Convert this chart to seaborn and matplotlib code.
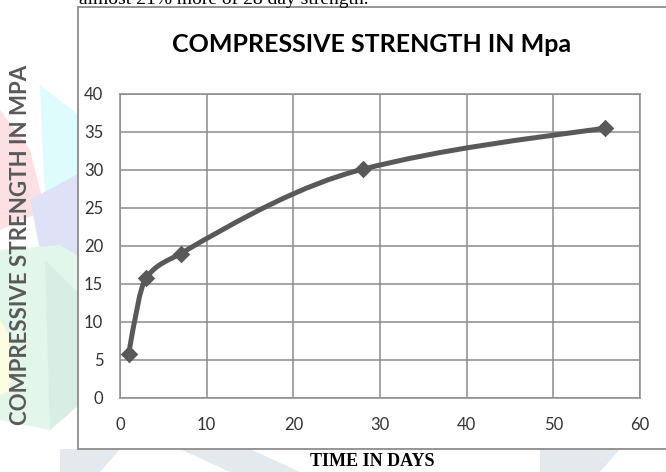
import numpy as np
import pandas as pd
import matplotlib
matplotlib.use("Agg")
import matplotlib.pyplot as plt
import seaborn as sns
from matplotlib.path import Path
from matplotlib.patches import PathPatch, Rectangle, Polygon, Wedge

# ---- data ----
days = [1, 3, 7, 28, 56]
strength = [5.8, 15.8, 19.0, 30.1, 35.5]
x_ticks = [0, 10, 20, 30, 40, 50, 60]
y_ticks = [0, 5, 10, 15, 20, 25, 30, 35, 40]
title = "COMPRESSIVE STRENGTH IN Mpa"
x_label = "TIME IN DAYS"
y_label = "COMPRESSIVE STRENGTH IN MPA"
page_text = "almost 21% more of 28 day strength."

sns.set_theme(style="white")
plt.rcParams['font.family'] = ['Lato', 'DejaVu Sans']

W, H = 666, 472
fig = plt.figure(figsize=(W / 100, H / 100), dpi=100)
fig.patch.set_facecolor("white")

def fx(px):
    return px / W

def fy(py):
    return 1 - py / H

# ---- faint watermark outside the chart frame ----
wm = [
    ([(0, 110), (30, 150), (45, 210), (0, 230)], "#fde0e3"),
    ([(40, 85), (85, 120), (85, 245), (45, 200)], "#dffcfc"),
    ([(30, 200), (85, 170), (85, 265), (40, 250)], "#dfe2f6"),
    ([(0, 250), (60, 245), (85, 260), (85, 370), (50, 430), (0, 420)], "#e2f6ec"),
    ([(45, 260), (85, 300), (85, 400), (50, 430)], "#d8eee5"),
    ([(0, 320), (12, 340), (10, 390), (0, 395)], "#fdfde2"),
    ([(60, 449), (120, 449), (100, 472), (60, 472)], "#e4e9ed"),
    ([(180, 449), (250, 449), (300, 472), (230, 472)], "#e4e9ed"),
    ([(540, 449), (620, 449), (600, 472), (540, 472)], "#e4e9ed"),
]
for pts, col in wm:
    fig.patches.append(Polygon([(fx(a), fy(b)) for a, b in pts], closed=True,
                               transform=fig.transFigure, facecolor=col,
                               edgecolor="none", zorder=0))

# ---- chart frame ----
fig.patches.append(Rectangle((fx(78), fy(449)), fx(700) - fx(78), fy(7) - fy(449),
                             transform=fig.transFigure, facecolor="white",
                             edgecolor="#8c8c8c", linewidth=1.3, zorder=1))

# page text cut off at the top
fig.text(fx(79), fy(4), page_text, family=["Liberation Serif"], fontsize=14,
         color="black", ha="left", va="baseline")

# ---- axes ----
ax = fig.add_axes([fx(120), fy(398), fx(640) - fx(120), fy(94) - fy(398)])
ax.set_facecolor("white")
ax.set_zorder(2)

# smooth line (Excel-like) drawn as bezier through data
x = np.array(days, float)
y = np.array(strength, float)
h = np.diff(x)
d = np.diff(y) / h
m = np.zeros_like(x)
for i in range(1, len(x) - 1):
    w1 = 2 * h[i] + h[i - 1]
    w2 = h[i] + 2 * h[i - 1]
    m[i] = (w1 + w2) / (w1 / d[i - 1] + w2 / d[i])
m[0] = ((2 * h[0] + h[1]) * d[0] - h[0] * d[1]) / (h[0] + h[1])
m[-1] = d[-1] * 0.8
verts = [(x[0], y[0])]
codes = [Path.MOVETO]
for i in range(len(x) - 1):
    verts += [(x[i] + h[i] / 3, y[i] + m[i] * h[i] / 3),
              (x[i + 1] - h[i] / 3, y[i + 1] - m[i + 1] * h[i] / 3),
              (x[i + 1], y[i + 1])]
    codes += [Path.CURVE4] * 3
ax.add_patch(PathPatch(Path(verts, codes), facecolor="none", edgecolor="#595959",
                       linewidth=3.6, capstyle="round", joinstyle="round", zorder=3))

df = pd.DataFrame({"days": days, "strength": strength})
sns.scatterplot(data=df, x="days", y="strength", marker="D", s=80,
                color="#595959", edgecolor="#595959", linewidth=0, ax=ax, zorder=4)

ax.set_xlim(0, 60)
ax.set_ylim(0, 40)
ax.set_xticks(x_ticks)
ax.set_yticks(y_ticks)
ax.grid(True, color="#8c8c8c", linewidth=1.1)
ax.set_axisbelow(True)
for s in ax.spines.values():
    s.set_color("#8c8c8c")
    s.set_linewidth(1.1)
ax.tick_params(axis="both", length=0, labelsize=12, labelcolor="#333333")
ax.tick_params(axis="x", pad=14)
ax.tick_params(axis="y", pad=12)
ax.set_xlabel("")
ax.set_ylabel("")

fig.text(fx(372), fy(44), title, fontsize=18, fontweight="bold", color="black",
         ha="center", va="center")
fig.text(fx(21), fy(245), y_label, fontsize=16, fontweight="bold", color="#595959",
         ha="center", va="center", rotation=90)
fig.text(fx(372), fy(462), x_label, family=["Liberation Serif"], fontsize=13,
         fontweight="bold", color="black", ha="center", va="center")

fig.savefig("out.png", dpi=100)
